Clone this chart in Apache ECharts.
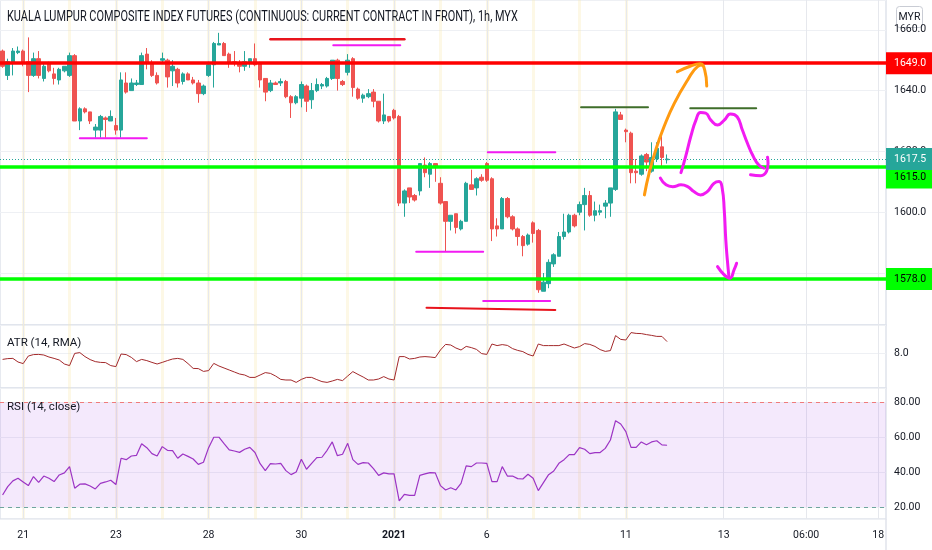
<!DOCTYPE html>
<html><head><meta charset="utf-8">
<script src="https://cdn.jsdelivr.net/npm/echarts@6/dist/echarts.min.js"></script>
<style>html,body{margin:0;padding:0;background:#fff}#c{width:932px;height:550px}</style>
</head><body><div id="c"></div>
<script>
// ---------------- DATA ----------------
const chartTitle = 'KUALA LUMPUR COMPOSITE INDEX FUTURES (CONTINUOUS: CURRENT CONTRACT IN FRONT), 1h, MYX';
const atrTitle = 'ATR (14, RMA)';
const rsiTitle = 'RSI (14, close)';
const currency = 'MYR';

const sessions = ['Dec 18','Dec 21','Dec 22','Dec 23','Dec 24','Dec 28','Dec 29','Dec 30','Dec 31','Jan 4','Jan 5','Jan 6','Jan 7','Jan 8','Jan 11'];
const barsPerSession = [4,9,9,9,9,9,9,9,9,9,9,9,9,9,9];
const futureSlots = 42;
const tickLabels = {'Dec 21|1':'21','Dec 23|1':'23','Dec 28|1':'28','Dec 30|1':'30','Jan 4|1':'2021','Jan 6|1':'6','Jan 11|1':'11','F11':'13','F27':'06:00','F41':'18'};

// [open, close, low, high]
const candles = [
[1653,1648,1647.5,1653.5],[1645,1649.5,1643.5,1650.5],[1649,1653,1645,1654],[1652.5,1653,1652,1654.5],
[1653,1649,1648,1653.5],[1649.5,1645,1639.5,1657.5],[1645,1650.5,1644.5,1652.5],[1650.5,1645,1644,1653],
[1644,1648,1643,1649],[1649,1646.5,1646,1649.5],[1645.5,1644,1642,1647.5],[1643.5,1647,1642,1647.5],
[1646.5,1648,1646,1648],[1645,1651.5,1644.5,1652.5],[1651.5,1630,1630,1652],[1630,1634,1627,1634.5],
[1634,1633,1632.5,1634.5],[1633,1630,1629,1633],[1627,1628,1624.5,1629],[1627,1631.5,1624.5,1632],
[1631,1630.5,1624.5,1631.5],[1630,1631.5,1630,1633.5],[1628.5,1627,1625.5,1631],[1627,1643.5,1624.5,1646],
[1642.5,1639.5,1639,1646],[1640,1642.5,1640,1644],[1642,1642.5,1641.5,1643.5],[1642,1651.5,1642,1652.5],
[1652,1649,1647,1654],[1649,1645,1644.5,1650],[1645,1642.5,1642,1646],[1650,1650.5,1649,1652.5],
[1650,1644.5,1641,1650.5],[1646.5,1648,1641.5,1650],[1647,1642.5,1641,1647.5],[1643,1645.5,1642,1646],
[1645.5,1643.5,1643.5,1646],[1643.5,1642.5,1642,1644.5],[1642.5,1639,1636,1643.5],[1639,1641.5,1638.5,1642],
[1645,1648.5,1644.5,1649.5],[1648.5,1655.5,1641,1656],[1655,1655.5,1655,1659],[1655.5,1651.5,1651.5,1656],
[1652,1649,1647.5,1652.5],[1649.5,1649,1648,1653],[1649,1648,1646,1650],[1648,1649.5,1646.5,1653],
[1649,1650.5,1647.5,1650.5],[1650.5,1648.5,1648,1655.5],[1649,1643.5,1641,1649.5],[1644,1639.5,1636.5,1644],
[1640,1642.5,1639.5,1643.5],[1642.5,1642,1642,1643],[1642.5,1643,1641.5,1644],[1643,1638,1637.5,1643.5],
[1638,1636,1631,1638.5],[1636,1638,1635.5,1638.5],[1637.5,1642,1634.5,1643],[1641.5,1636.5,1633,1642],
[1637,1640,1634,1642.5],[1640,1642,1639.5,1644],[1641.5,1642,1640.5,1642.5],[1641.5,1644,1641,1644.5],
[1644,1650,1643.5,1650],[1650,1644,1640,1650.5],[1643,1642,1641.5,1643.5],[1646,1650,1645,1652],
[1650.5,1641,1638,1651],[1640.5,1637.5,1637,1641],[1637.5,1638.5,1636,1639],[1638,1639,1637.5,1640.5],
[1639.5,1636.5,1634.5,1640.5],[1636.5,1630,1629.5,1636.5],[1630,1632,1629,1639],[1631.5,1630,1629.5,1631.5],
[1633.5,1631,1630.5,1634],[1631.5,1603,1602,1632],[1603,1607,1598.5,1607.5],[1608,1605,1603,1608],
[1605.5,1604,1603.5,1606],[1607,1616,1605.5,1616],[1615.5,1613,1611.5,1618],[1612.5,1616,1608,1616.5],
[1616,1615,1610,1616],[1609.5,1603,1602.5,1611.5],[1603.5,1597,1587,1603.5],[1597,1599,1594,1599],
[1599.5,1595,1593,1599.5],[1594.5,1597,1594,1597.5],[1597,1609.5,1597,1610],[1609,1607.5,1607.5,1614],
[1608,1611,1605.5,1611.5],[1611.5,1610.5,1610,1612.5],[1616,1610.5,1610,1616.5],[1611,1594.5,1590.5,1611.5],
[1595.5,1594.5,1592,1598],[1594.5,1604.5,1594.5,1605],[1604.5,1598.5,1598,1605],[1598.5,1594.5,1594,1599],
[1594.5,1592,1589,1595],[1592,1589,1585.5,1592.5],[1589.5,1592.5,1589,1593],[1596.5,1593,1590,1597],
[1594,1574.5,1573.5,1594.5],[1574,1577,1574,1580],[1576.5,1583.5,1575,1584.5],[1583,1586,1582,1586.5],
[1585.5,1592,1585.5,1593.5],[1592,1593.5,1591,1599.5],[1593.5,1599,1593,1599.5],[1599,1595.5,1595,1599.5],
[1600,1602.5,1599,1603.5],[1602.5,1605.5,1594,1608],[1605.5,1599,1598.5,1607],[1599,1600.5,1597,1603.5],
[1600,1600.5,1599,1602.5],[1602,1603,1598,1604],[1603,1608,1598.5,1608],[1607.5,1633,1607,1634],
[1632,1630.5,1630.5,1633],[1627,1626.5,1623,1627.5],[1626,1613,1609.5,1626.5],[1613.5,1613,1609.5,1617.5],
[1612.5,1618.5,1612,1619],[1619,1616.5,1613.5,1619.5],[1613.5,1618,1613,1623],[1617.5,1621,1616.5,1623],
[1621.5,1618,1614.5,1625],[1617.25,1617.5,1616,1619]
];

const atr = [7.68,7.72,7.73,7.55,7.47,7.85,7.92,7.93,7.90,7.80,
7.73,7.65,7.45,7.37,7.98,8.02,7.82,7.67,7.57,7.53,
7.52,7.37,7.32,7.95,7.92,7.78,7.57,7.68,7.62,7.53,
7.45,7.53,7.62,7.70,7.73,7.68,7.47,7.23,7.22,7.08,
7.12,7.48,7.35,7.25,7.15,7.05,6.95,6.90,6.78,6.78,
6.90,7.02,6.98,6.85,6.68,6.65,6.65,6.53,6.68,6.78,
6.78,6.67,6.57,6.53,6.60,6.68,6.62,6.85,7.07,6.93,
6.80,6.65,6.65,6.70,6.82,6.70,6.65,7.82,7.82,7.70,
7.73,7.80,7.82,7.80,7.77,8.15,8.43,8.40,8.25,8.15,
8.33,8.27,8.18,7.97,7.93,8.45,8.37,8.42,8.38,8.22,
8.13,8.07,7.93,7.85,8.45,8.37,8.37,8.37,8.37,8.45,
8.35,8.25,8.32,8.47,8.43,8.33,8.17,8.08,8.12,8.87,
8.68,8.65,9.02,8.98,8.97,8.92,8.88,8.83,8.83,8.57];

const rsi = [26.9,31.7,35.0,36.5,34.4,32.3,37.5,34.2,37.8,36.5,
34.6,38.4,39.6,43.2,30.8,33.1,33.3,32.1,30.4,33.6,
34.4,35.4,32.9,48.0,47.2,49.3,49.7,56.4,54.1,50.7,
49.3,54.7,52.6,52.4,48.0,50.5,49.1,47.6,44.5,45.7,
54.1,60.1,60.1,56.4,52.8,52.2,51.4,53.2,54.3,51.3,
44.9,40.9,44.9,44.7,45.1,40.9,38.6,40.1,47.4,41.7,
45.1,48.4,48.6,52.6,57.4,49.5,50.3,56.6,47.2,44.5,
45.5,45.3,42.1,38.2,39.6,39.0,39.0,23.5,27.3,26.7,
26.7,38.2,39.0,39.8,39.6,32.3,29.8,31.1,29.8,33.6,
43.6,43.2,45.3,45.3,45.1,34.6,34.6,43.2,37.8,37.8,
36.3,36.1,38.8,36.5,29.4,34.0,38.6,40.7,45.1,47.2,
50.1,50.1,54.1,53.2,50.7,51.3,51.3,53.7,58.5,69.6,
67.7,63.3,54.3,54.3,57.4,55.8,57.4,58.1,55.7,55.5];

const resistanceLevel = 1649.0;
const supportLevels = [1615.0, 1578.0];
const lastPrice = 1617.5;
const support1LabelAnchor = 1611.4;   // where the 1615.0 tag is pushed below the last-price tag
const rsiBands = [20, 80];
const priceRange = [1562.9, 1669.8];
const atrRange = [6.25, 9.4];
const rsiRange = [13.1, 88.4];

// hand-drawn annotations: [bar index, price]
const redTopLine = [[52.0,1656.9],[78.0,1656.9]];
const magentaTopLine = [[64.2,1654.9],[77.2,1654.9]];
const magentaLeftLine = [[15.0,1624.3],[28.0,1624.3]];
const magentaMidLine = [[94.2,1619.7],[107.3,1619.7]];
const magentaLowLine = [[80.3,1587.0],[93.3,1587.0]];
const magentaBottomLine = [[93.3,1570.8],[106.3,1570.8]];
const redBottomLine = [[82.3,1568.6],[107.3,1567.8]];
const greenTopLine1 = [[112.3,1634.5],[125.3,1634.5]];
const greenTopLine2 = [[133.5,1634.2],[146.3,1634.2]];
const orangeShaft = [[124.6,1605.7],[125.5,1612.8],[126.8,1620.5],[128.4,1628.1],[130.4,1635.8],[133.0,1643.5],[134.9,1647.9],[135.9,1648.4]];
const orangeHead = [[131.0,1646.2],[133.6,1648.1],[135.4,1648.8],[136.3,1646.8],[136.7,1641.5]];
const magentaUpper = [[131.7,1613.0],[132.6,1618.3],[133.6,1624.9],[134.6,1630.3],[135.5,1632.8],[136.5,1632.6],[137.5,1630.3],[138.8,1628.7],[140.1,1630.3],[141.3,1632.3],[142.6,1631.4],[143.6,1627.1],[144.6,1622.7],[145.6,1618.8],[146.8,1615.5],[147.8,1614.5]];
const magentaUpperHook = [[145.2,1612.3],[147.2,1612.0],[148.3,1613.4],[148.6,1616.1],[148.5,1618.1]];
const magentaLower = [[127.7,1611.2],[128.8,1609.0],[130.1,1608.4],[131.7,1609.0],[133.0,1608.4],[134.2,1606.8],[135.5,1605.7],[136.8,1606.8],[138.1,1609.5],[139.1,1610.1],[139.7,1607.9],[140.1,1600.7],[140.4,1590.9],[140.7,1584.3],[141.0,1578.8]];
const magentaLowerHead = [[138.8,1582.1],[140.1,1579.4],[141.2,1578.3],[142.0,1581.0],[142.5,1583.2]];

// ---------------- BUILD ----------------
const categories = [];
sessions.forEach((s, k) => { for (let b = 1; b <= barsPerSession[k]; b++) categories.push(s + '|' + b); });
for (let f = 1; f <= futureSlots; f++) categories.push('F' + f);
const sessionStarts = new Set(sessions.slice(1).map(s => s + '|1'));

const FONT = "Roboto, 'Liberation Sans', sans-serif";
const TXT = '#131722';
const UP = '#26a69a', DOWN = '#ef5350';
const LBL = 10.5;

const grids = [
  {left: -2.2, right: 46, top: 0, height: 325},
  {left: -2.2, right: 46, top: 325, height: 63},
  {left: -2.2, right: 46, top: 388, height: 131}
].map(g => Object.assign(g, {show: true, borderColor: '#e0e3eb', borderWidth: 1.5, backgroundColor: 'transparent'}));

const isTick = (i, v) => tickLabels[v] !== undefined;
const isSession = (i, v) => sessionStarts.has(v);

const xAxes = [];
[0,1,2].forEach(g => xAxes.push({
  type: 'category', gridIndex: g, position: 'bottom', data: categories, boundaryGap: true,
  axisLine: {show: false, onZero: false}, axisTick: {show: false}, axisLabel: {show: false},
  splitLine: {show: true, interval: isSession, alignWithLabel: true, lineStyle: {color: 'rgba(250,235,180,0.33)', width: 3}}
}));
[0,1,2].forEach(g => xAxes.push({
  type: 'category', gridIndex: g, position: 'bottom', data: categories, boundaryGap: true,
  axisLine: {show: false, onZero: false}, axisTick: {show: false},
  axisLabel: g === 2 ? {
    show: true, interval: isTick, margin: 11, color: TXT, fontSize: LBL, fontFamily: FONT,
    formatter: v => tickLabels[v] === '2021' ? '{b|2021}' : (tickLabels[v] || ''),
    rich: {b: {fontWeight: 'bold', fontSize: LBL, fontFamily: FONT, color: TXT}}
  } : {show: false},
  splitLine: {show: true, interval: isTick, alignWithLabel: true, lineStyle: {color: '#e6e8ed', width: 1}}
}));
xAxes.push({type: 'value', gridIndex: 0, position: 'bottom', min: -0.5, max: categories.length - 0.5, show: false,
  axisLine: {show: false, onZero: false}, axisTick: {show: false}, axisLabel: {show: false}, splitLine: {show: false}});

function yAx(g, range, split, digits) {
  return {
    type: 'value', gridIndex: g, position: 'right', min: range[0], max: range[1], splitNumber: split,
    axisLine: {show: false, onZero: false},
    axisTick: {show: false},
    axisLabel: {color: TXT, fontSize: LBL, fontFamily: FONT, margin: 8, formatter: v => v.toFixed(digits), showMinLabel: false, showMaxLabel: false},
    splitLine: {show: true, lineStyle: {color: '#eef0f4'}}
  };
}

function tag(bg, fg, text) {
  return {show: true, position: 'end', distance: 0, formatter: text, backgroundColor: bg, color: fg, opacity: 1,
    fontSize: LBL, fontFamily: FONT, lineHeight: 13, padding: [5, 18, 4, 8]};
}

function drawing(pts, color, width, smooth) {
  return {type: 'line', xAxisIndex: 6, yAxisIndex: 0, data: pts, symbol: 'none', silent: true, z: 6,
    smooth: smooth ? 0.5 : false, animation: false,
    lineStyle: {color: color, width: width, cap: 'round', join: 'round'}};
}

const MAG = '#f21bf2', RED = '#e8141c', DKG = '#3f6e2a', ORG = '#ff9a10';

const option = {
  backgroundColor: '#ffffff',
  animation: false,
  textStyle: {fontFamily: FONT},
  title: [
    {text: atrTitle, left: 7, top: 337, padding: 0, textStyle: {fontFamily: FONT, fontSize: 11.5, fontWeight: 'normal', color: TXT}},
    {text: rsiTitle, left: 7, top: 401, padding: 0, textStyle: {fontFamily: FONT, fontSize: 11.5, fontWeight: 'normal', color: TXT}}
  ],
  grid: grids,
  xAxis: xAxes,
  yAxis: [yAx(0, priceRange, 5, 1), yAx(1, atrRange, 2, 1), yAx(2, rsiRange, 4, 2)],
  series: [
    {
      type: 'candlestick', xAxisIndex: 3, yAxisIndex: 0, data: candles, barWidth: '78%',
      itemStyle: {color: UP, color0: DOWN, borderColor: UP, borderColor0: DOWN, borderWidth: 1},
      markLine: {
        symbol: ['none', 'none'], silent: true, animation: false,
        data: [
          {yAxis: supportLevels[0], lineStyle: {color: '#00ff00', width: 3.5, type: 'solid'}, label: {show: false}},
          {yAxis: supportLevels[1], lineStyle: {color: '#00ff00', width: 3.5, type: 'solid'}, label: tag('#00ff00', '#000000', supportLevels[1].toFixed(1))},
          {yAxis: resistanceLevel, lineStyle: {color: '#ff0000', width: 3.5, type: 'solid'}, label: tag('#ff0000', '#ffffff', resistanceLevel.toFixed(1))},
          {yAxis: support1LabelAnchor, lineStyle: {color: 'rgba(0,0,0,0)', width: 0}, label: tag('#00ff00', '#000000', supportLevels[0].toFixed(1))},
          {yAxis: lastPrice, lineStyle: {color: UP, width: 1, type: [1, 2]}, label: tag(UP, '#ffffff', lastPrice.toFixed(1))}
        ]
      }
    },
    {type: 'line', xAxisIndex: 4, yAxisIndex: 1, data: atr, symbol: 'none', silent: true,
     lineStyle: {color: '#a3292b', width: 1}},
    {type: 'line', xAxisIndex: 5, yAxisIndex: 2, data: rsi, symbol: 'none', silent: true,
     lineStyle: {color: '#9c34c4', width: 1.2},
     markArea: {silent: true, itemStyle: {color: 'rgba(155,55,225,0.11)'}, data: [[{yAxis: rsiBands[0]}, {yAxis: rsiBands[1]}]]},
     markLine: {symbol: ['none', 'none'], silent: true, animation: false, label: {show: false},
       data: [
         {yAxis: rsiBands[1], lineStyle: {color: '#ef7b7b', width: 1, type: [4, 4]}},
         {yAxis: rsiBands[0], lineStyle: {color: '#6fa59e', width: 1, type: [4, 4]}}
       ]}
    },
    drawing(redTopLine, RED, 2.5),
    drawing(magentaTopLine, MAG, 2),
    drawing(magentaLeftLine, MAG, 2),
    drawing(magentaMidLine, MAG, 2),
    drawing(magentaLowLine, MAG, 2),
    drawing(magentaBottomLine, MAG, 2),
    drawing(redBottomLine, RED, 2),
    drawing(greenTopLine1, DKG, 2),
    drawing(greenTopLine2, DKG, 2),
    drawing(orangeShaft, ORG, 3, true),
    drawing(orangeHead, ORG, 3, true),
    drawing(magentaUpper, MAG, 3, true),
    drawing(magentaUpperHook, MAG, 3, true),
    drawing(magentaLower, MAG, 3, true),
    drawing(magentaLowerHead, MAG, 3, true)
  ],
  graphic: [
    {type: 'text', x: 7, y: 17.5, scaleX: 0.78, z: 100,
     style: {text: chartTitle, fill: TXT, fontSize: 14, fontFamily: FONT, verticalAlign: 'middle', align: 'left'}},
    {type: 'line', z: 50, shape: {x1: 886, y1: 519, x2: 886, y2: 550}, style: {stroke: '#e0e3eb', lineWidth: 1.5}},
    {type: 'group', left: 896, top: 6, z: 100, children: [
      {type: 'rect', shape: {x: 0, y: 0, width: 26, height: 21, r: 3}, style: {fill: '#ffffff', stroke: '#c9ccd4', lineWidth: 1}},
      {type: 'text', x: 13, y: 11, style: {text: currency, fill: TXT, fontSize: 10.5, fontFamily: FONT, align: 'center', verticalAlign: 'middle'}}
    ]}
  ]
};

const chart = echarts.init(document.getElementById('c'), null, {renderer: 'canvas', width: 932, height: 550});
chart.setOption(option);
</script>
</body></html>
